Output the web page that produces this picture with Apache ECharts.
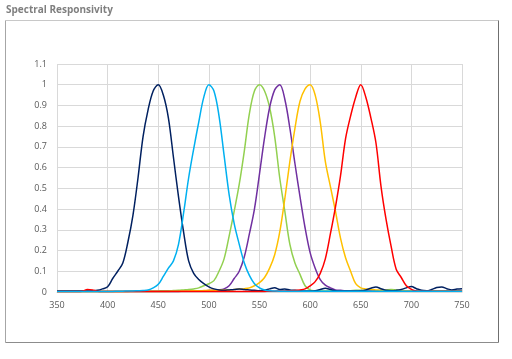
<!DOCTYPE html>
<html>
<head>
<meta charset="utf-8">
<script src="https://cdn.jsdelivr.net/npm/echarts@6/dist/echarts.min.js"></script>
<style>
html,body{margin:0;padding:0;background:#fff;}
#c{width:512px;height:359px;}
</style>
</head>
<body>
<div id="c"></div>
<script>
// Wavelengths (nm), 5 nm steps from 350 to 750
var wavelengths = [];
for (var w = 350; w <= 750; w += 5) wavelengths.push(w);

var titleText = "Spectral Responsivity";

// Rows: 350-395, 400-445, 450-495, 500-545, 550-595, 600-645, 650-695, 700-745, 750
var navy = [
  .005,.005,.005,.005,.005,.005,.005,.006,.008,.015,
  .025,.065,.10,.14,.24,.37,.55,.75,.88,.97,
  1.0,.95,.84,.65,.46,.29,.15,.09,.06,.04,
  .025,.015,.01,.008,.01,.012,.015,.012,.01,.008,
  .006,.008,.015,.02,.012,.015,.01,.008,.006,.005,
  .005,.006,.012,.018,.012,.006,.005,.005,.005,.005,
  .006,.01,.018,.024,.016,.008,.006,.008,.012,.02,
  .026,.016,.008,.006,.012,.022,.024,.016,.01,.014,
  .016
];
var lightBlue = [
  .003,.003,.003,.003,.003,.003,.003,.003,.003,.003,
  .003,.003,.004,.004,.005,.005,.006,.007,.01,.02,
  .037,.075,.115,.15,.23,.38,.55,.69,.82,.94,
  1.0,.97,.85,.66,.47,.33,.23,.14,.08,.04,
  .02,.01,.006,.005,.004,.004,.004,.004,.004,.004,
  .004,.004,.004,.004,.004,.004,.004,.004,.004,.004,
  .004,.004,.004,.004,.004,.004,.004,.004,.004,.004,
  .004,.004,.004,.004,.004,.004,.004,.004,.004,.004,
  .004
];
var green = [
  .003,.003,.003,.003,.003,.003,.003,.003,.003,.003,
  .003,.003,.003,.003,.003,.004,.004,.004,.005,.005,
  .005,.006,.006,.007,.008,.01,.012,.015,.02,.03,
  .04,.055,.10,.16,.27,.39,.52,.68,.86,.97,
  1.0,.97,.89,.75,.55,.39,.23,.14,.085,.03,
  .01,.006,.005,.005,.005,.005,.005,.005,.006,.008,
  .008,.006,.005,.006,.008,.01,.012,.01,.008,.006,
  .005,.005,.005,.005,.005,.005,.005,.005,.005,.005,
  .005
];
var purple = [
  .002,.002,.002,.002,.002,.002,.002,.002,.002,.002,
  .002,.002,.002,.002,.002,.002,.002,.002,.002,.002,
  .002,.002,.003,.003,.003,.004,.004,.005,.005,.006,
  .007,.008,.01,.015,.03,.065,.10,.17,.28,.40,
  .57,.745,.89,.975,1.0,.93,.79,.62,.46,.31,
  .19,.115,.06,.033,.02,.01,.008,.006,.005,.005,
  .005,.005,.005,.005,.005,.005,.005,.005,.005,.005,
  .005,.005,.005,.005,.005,.005,.005,.005,.005,.005,
  .005
];
var orange = [
  .002,.002,.002,.002,.002,.002,.002,.002,.002,.002,
  .002,.002,.002,.002,.002,.002,.002,.002,.002,.002,
  .003,.003,.003,.004,.004,.005,.005,.006,.006,.007,
  .008,.008,.009,.01,.01,.012,.014,.016,.02,.03,
  .045,.07,.115,.18,.29,.45,.63,.79,.92,.98,
  1.0,.95,.82,.63,.51,.39,.26,.165,.10,.04,
  .02,.015,.012,.01,.008,.007,.006,.006,.005,.005,
  .005,.005,.005,.005,.005,.005,.005,.005,.005,.005,
  .005
];
var red = [
  .003,.003,.003,.003,.003,.004,.012,.01,.004,.003,
  .003,.003,.003,.003,.003,.003,.003,.003,.003,.003,
  .003,.003,.003,.003,.003,.003,.003,.003,.003,.003,
  .003,.003,.003,.003,.003,.003,.003,.003,.003,.003,
  .003,.003,.004,.004,.005,.005,.006,.007,.01,.015,
  .03,.05,.09,.16,.28,.41,.56,.74,.85,.94,
  1.0,.94,.84,.72,.51,.35,.22,.11,.07,.03,
  .013,.005,.004,.004,.004,.004,.004,.004,.004,.004,
  .004
];

var seriesDefs = [
  {name: "Green", data: green, color: "#92d050"},
  {name: "Purple", data: purple, color: "#7030a0"},
  {name: "Orange", data: orange, color: "#ffc000"},
  {name: "Navy", data: navy, color: "#002060"},
  {name: "Red", data: red, color: "#ff0000"},
  {name: "Light blue", data: lightBlue, color: "#00b0f0"}
];

var chart = echarts.init(document.getElementById('c'), null, {renderer: 'canvas'});
var labelStyle = {color: '#595959', fontSize: 9, fontFamily: 'Open Sans'};
chart.setOption({
  animation: false,
  title: {
    text: titleText, left: 1, top: 0,
    textStyle: {color: '#7f7f7f', fontSize: 10, fontWeight: 'bold', fontFamily: 'Open Sans'}
  },
  graphic: [
    {type: 'line', shape: {x1: 5.5, y1: 20.5, x2: 498.5, y2: 20.5}, style: {stroke: '#c8c8c8', lineWidth: 1}, silent: true},
    {type: 'line', shape: {x1: 5.5, y1: 20.5, x2: 5.5, y2: 342.5}, style: {stroke: '#a6a6a6', lineWidth: 1}, silent: true},
    {type: 'line', shape: {x1: 5.5, y1: 342.5, x2: 498.5, y2: 342.5}, style: {stroke: '#8c8c8c', lineWidth: 1}, silent: true},
    {type: 'line', shape: {x1: 498.5, y1: 20.5, x2: 498.5, y2: 342.5}, style: {stroke: '#6f6f6f', lineWidth: 1}, silent: true}
  ],
  grid: {left: 57, right: 50, top: 64, bottom: 67, containLabel: false},
  xAxis: {
    type: 'value', min: 350, max: 750, interval: 50,
    axisLine: {show: true, lineStyle: {color: '#d9d9d9'}},
    axisTick: {show: false},
    axisLabel: Object.assign({margin: 9}, labelStyle),
    splitLine: {show: true, lineStyle: {color: '#d9d9d9', width: 1}}
  },
  yAxis: {
    type: 'value', min: 0, max: 1.1, interval: 0.1,
    axisLine: {show: false},
    axisTick: {show: false},
    axisLabel: Object.assign({margin: 10, formatter: function (v) { return +v.toFixed(1) + ''; }}, labelStyle),
    splitLine: {show: true, lineStyle: {color: '#d9d9d9', width: 1}}
  },
  series: seriesDefs.map(function (s) {
    return {
      name: s.name, type: 'line', showSymbol: false, smooth: 0.35,
      lineStyle: {color: s.color, width: 1.5},
      itemStyle: {color: s.color},
      data: wavelengths.map(function (w, i) { return [w, s.data[i]]; })
    };
  })
});
</script>
</body>
</html>
